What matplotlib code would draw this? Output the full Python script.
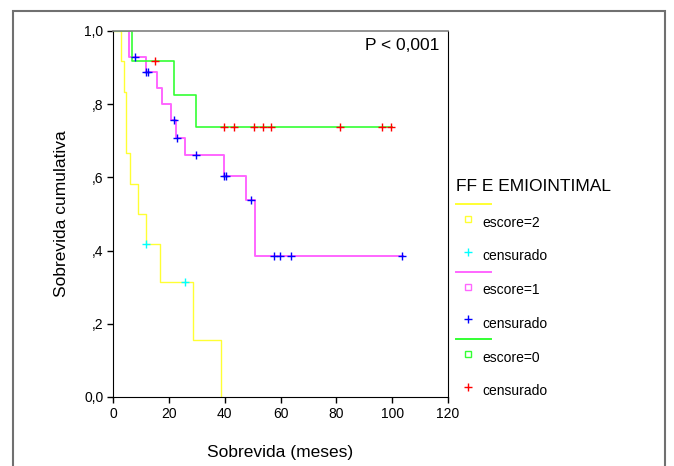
import numpy as np
import matplotlib
matplotlib.use("Agg")
import matplotlib.pyplot as plt
from matplotlib.lines import Line2D
from matplotlib.patches import Rectangle

plt.rcParams["font.family"] = ["Liberation Sans", "DejaVu Sans"]

# Kaplan-Meier curves (months, cumulative survival)
yellow_times = [2.9, 3.9, 4.7, 6.1, 8.8, 11.8, 17.0, 28.8, 38.7]
yellow_surv = [0.917, 0.833, 0.667, 0.583, 0.500, 0.417, 0.313, 0.156, 0.0]
yellow_cens = [11.9, 25.7]
yellow_end = 38.7

magenta_times = [5.9, 11.7, 15.9, 17.7, 20.8, 22.7, 25.8, 39.8, 47.6, 50.8]
magenta_surv = [0.928, 0.889, 0.845, 0.800, 0.756, 0.709, 0.661, 0.605, 0.537, 0.386]
magenta_cens = [7.9, 11.8, 12.7, 21.9, 22.8, 29.6, 39.9, 40.6, 49.5,
                57.7, 59.9, 63.7, 103.6]
magenta_end = 104.0

green_times = [6.9, 22.0, 29.7]
green_surv = [0.917, 0.825, 0.737]
green_cens = [15.1, 39.8, 43.5, 50.5, 53.7, 56.6, 81.4, 96.4, 99.6]
green_end = 100.0

xticks = [0, 20, 40, 60, 80, 100, 120]
yticks = [0.0, 0.2, 0.4, 0.6, 0.8, 1.0]
ytick_labels = ["0,0", ",2", ",4", ",6", ",8", "1,0"]

legend_title = "FF E EMIOINTIMAL"
group_labels = ["escore=2", "escore=1", "escore=0"]
cens_label = "censurado"

YELLOW = "#ffff33"
MAGENTA = "#ff66ff"
GREEN = "#33ff33"
CENS_COLORS = ["#00ffff", "#0000ff", "#ff0000"]

W, H = 674, 466
fig = plt.figure(figsize=(W / 100, H / 100), dpi=100, facecolor="white")


def fx(px):
    return px / W


def fy(py):
    return 1 - py / H


ax = fig.add_axes([fx(113), fy(397), fx(448) - fx(113), fy(31) - fy(397)])


def km_curve(times, surv, cens, end, color, ccolor, lw):
    xs = [0] + list(times) + [end]
    ys = [1.0] + list(surv) + [surv[-1]]
    ax.step(xs, ys, where="post", color=color, lw=lw, zorder=2)
    levels = np.array([1.0] + list(surv))
    idx = np.searchsorted(np.array(times), np.array(cens), side="right")
    ax.plot(cens, levels[idx], linestyle="none", marker="+", color=ccolor,
            markersize=6, markeredgewidth=1.0, zorder=3)


km_curve(yellow_times, yellow_surv, yellow_cens, yellow_end, YELLOW, CENS_COLORS[0], 1.0)
km_curve(magenta_times, magenta_surv, magenta_cens, magenta_end, MAGENTA, CENS_COLORS[1], 1.4)
km_curve(green_times, green_surv, green_cens, green_end, GREEN, CENS_COLORS[2], 1.2)

ax.set_xlim(0, 120)
ax.set_ylim(0, 1)
ax.set_xticks(xticks)
ax.set_yticks(yticks)
ax.set_yticklabels(ytick_labels)
ax.tick_params(direction="out", length=4, width=1, labelsize=10, pad=3)
for side in ["left", "bottom", "right"]:
    ax.spines[side].set_color("black")
ax.spines["top"].set_color("#808080")
ax.spines["top"].set_linewidth(1.2)

ax.set_xlabel("Sobrevida (meses)", fontsize=12.5)
ax.set_ylabel("Sobrevida cumulativa", fontsize=12.5)
ax.xaxis.label.set_va("center")
ax.yaxis.label.set_va("center")
ax.xaxis.set_label_coords(0.5, (397 - 452) / 366)
ax.yaxis.set_label_coords((62 - 113) / 335, 0.5)

ax.text(0.975, 0.96, "P < 0,001", transform=ax.transAxes, ha="right", va="center",
        fontsize=12.5)

# legend drawn outside the axes, SPSS style
fig.text(fx(456), fy(186), legend_title, fontsize=12.5, ha="left", va="center")
line_colors = [YELLOW, MAGENTA, GREEN]
for i, (lab, lc, cc) in enumerate(zip(group_labels, line_colors, CENS_COLORS)):
    base = 204 + i * 67.5
    fig.add_artist(Line2D([fx(456), fx(491)], [fy(base), fy(base)], color=lc, lw=1.4,
                          transform=fig.transFigure))
    fig.add_artist(Line2D([fx(468)], [fy(base + 15)], marker="s", markersize=4.5,
                          markerfacecolor="none", markeredgecolor=lc, markeredgewidth=1.0,
                          linestyle="none", transform=fig.transFigure))
    fig.text(fx(482), fy(base + 19), lab, fontsize=10, ha="left", va="center")
    fig.add_artist(Line2D([fx(468)], [fy(base + 47.5)], marker="+", markersize=6,
                          color=cc, markeredgewidth=1.0, linestyle="none",
                          transform=fig.transFigure))
    fig.text(fx(482), fy(base + 52), cens_label, fontsize=10, ha="left", va="center")

# outer frame of the output panel
fig.add_artist(Rectangle((fx(13), -0.05), fx(665) - fx(13), fy(11) + 0.05,
                         fill=False, edgecolor="#707070", lw=1.5,
                         transform=fig.transFigure))

fig.savefig("out.png", dpi=100, facecolor="white")
